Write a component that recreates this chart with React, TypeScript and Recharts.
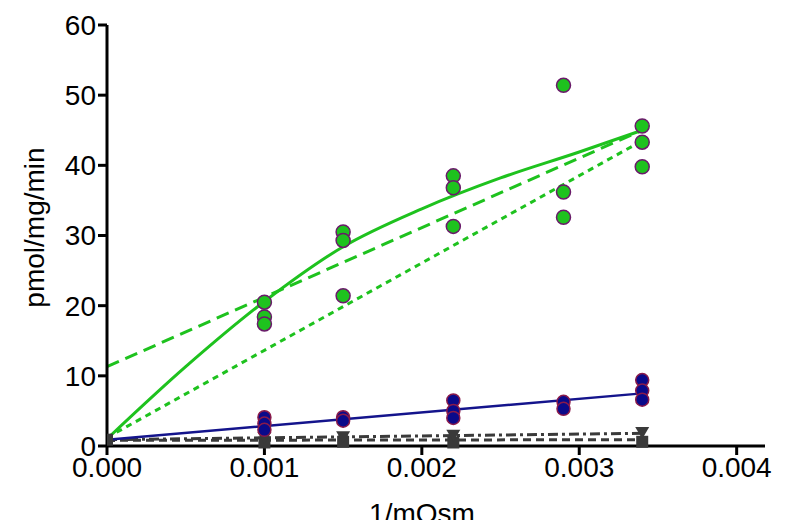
import React from 'react';
import {
  ComposedChart,
  Scatter,
  Line,
  XAxis,
  YAxis,
} from 'recharts';

// measured points (1/mOsm vs pmol/mg/min)
const greenPoints = [
  { x: 0.001, y: 20.5 }, { x: 0.001, y: 18.4 }, { x: 0.001, y: 17.4 },
  { x: 0.0015, y: 30.5 }, { x: 0.0015, y: 29.3 }, { x: 0.0015, y: 21.4 },
  { x: 0.0022, y: 38.5 }, { x: 0.0022, y: 36.8 }, { x: 0.0022, y: 31.3 },
  { x: 0.0029, y: 51.4 }, { x: 0.0029, y: 36.2 }, { x: 0.0029, y: 32.6 },
  { x: 0.0034, y: 45.6 }, { x: 0.0034, y: 43.3 }, { x: 0.0034, y: 39.8 },
];

const bluePoints = [
  { x: 0.001, y: 4.1 }, { x: 0.001, y: 3.2 }, { x: 0.001, y: 2.3 },
  { x: 0.0015, y: 4.1 }, { x: 0.0015, y: 3.6 },
  { x: 0.0022, y: 6.5 }, { x: 0.0022, y: 5.0 }, { x: 0.0022, y: 4.0 },
  { x: 0.0029, y: 6.3 }, { x: 0.0029, y: 5.3 },
  { x: 0.0034, y: 9.4 }, { x: 0.0034, y: 7.9 }, { x: 0.0034, y: 6.6 },
];

const trianglePoints = [
  { x: 0.001, y: 1.3 }, { x: 0.0015, y: 1.4 }, { x: 0.0022, y: 1.6 }, { x: 0.0034, y: 2.0 },
];

const squarePoints = [
  { x: 0, y: 0.9 }, { x: 0.001, y: 0.5 }, { x: 0.0015, y: 0.6 }, { x: 0.0022, y: 0.5 }, { x: 0.0034, y: 0.6 },
];

// fitted curves
const greenFit = [
  { x: 0, y: 1 }, { x: 0.0005, y: 11.3 }, { x: 0.001, y: 20.6 }, { x: 0.0015, y: 28.4 },
  { x: 0.002, y: 33.8 }, { x: 0.0025, y: 38.2 }, { x: 0.003, y: 41.9 }, { x: 0.0034, y: 45 },
];
const greenDashed = [{ x: 0, y: 11.3 }, { x: 0.0034, y: 45 }];
const greenDotted = [{ x: 0, y: 1.2 }, { x: 0.0034, y: 43.5 }];
const blueFit = [{ x: 0, y: 0.9 }, { x: 0.0034, y: 7.5 }];
const triangleFit = [{ x: 0, y: 0.9 }, { x: 0.0034, y: 1.8 }];
const squareFit = [{ x: 0, y: 0.8 }, { x: 0.0034, y: 0.9 }];

const xTicks = [0, 0.001, 0.002, 0.003, 0.004];
const yTicks = [0, 10, 20, 30, 40, 50, 60];

const GREEN = '#1ec21e';
const NAVY = '#14148c';
const GRAY = '#3a3a3a';
const FONT = '"Liberation Sans", Arial, sans-serif';

const GreenDot = (props: any) => (
  <circle cx={props.cx} cy={props.cy} r={7} fill={GREEN} stroke="#6a1a6a" strokeWidth={1.5} />
);
const BlueDot = (props: any) => (
  <circle cx={props.cx} cy={props.cy} r={6.5} fill="#0a0a8a" stroke="#8a1a4a" strokeWidth={1.5} />
);
const Square = (props: any) => (
  <rect x={props.cx - 6} y={props.cy - 6} width={12} height={12} fill={GRAY} />
);
const Triangle = (props: any) => {
  const { cx, cy } = props;
  return <path d={`M${cx - 7},${cy - 5} L${cx + 7},${cy - 5} L${cx},${cy + 7} Z`} fill={GRAY} />;
};

const tickStyle = { fill: '#000', fontSize: 28, fontFamily: FONT };

export default function App() {
  return (
    <div style={{ position: 'absolute', left: 0, top: 0, width: 800, height: 520, background: '#fff', overflow: 'hidden' }}>
      <ComposedChart width={800} height={520} margin={{ top: 25, right: 35, left: 27, bottom: 24 }}>
        <XAxis
          type="number"
          dataKey="x"
          domain={[0, 0.00418]}
          ticks={xTicks}
          tickFormatter={(v: number) => v.toFixed(3)}
          allowDataOverflow
          stroke="#000"
          strokeWidth={3}
          tickSize={9}
          tick={tickStyle}
          height={50}
          label={{ value: '1/mOsm', position: 'insideBottom', dx: -14, dy: 32, style: { fontSize: 28, fontFamily: FONT, fill: '#000' } }}
        />
        <YAxis
          type="number"
          dataKey="y"
          domain={[0, 60]}
          ticks={yTicks}
          stroke="#000"
          strokeWidth={3}
          tickSize={9}
          tick={tickStyle}
          width={80}
          label={{ value: 'pmol/mg/min', angle: -90, position: 'insideLeft', dx: 2, dy: -8, style: { textAnchor: 'middle', fontSize: 28, fontFamily: FONT, fill: '#000' } }}
        />
        <Line data={greenFit} dataKey="y" type="monotone" stroke={GREEN} strokeWidth={3} dot={false} isAnimationActive={false} />
        <Line data={greenDashed} dataKey="y" type="linear" stroke={GREEN} strokeWidth={3} strokeDasharray="13 7" dot={false} isAnimationActive={false} />
        <Line data={greenDotted} dataKey="y" type="linear" stroke={GREEN} strokeWidth={3} strokeDasharray="6 5" dot={false} isAnimationActive={false} />
        <Line data={triangleFit} dataKey="y" type="linear" stroke={GRAY} strokeWidth={3} strokeDasharray="10 4 3 4" dot={false} isAnimationActive={false} />
        <Line data={squareFit} dataKey="y" type="linear" stroke={GRAY} strokeWidth={3} strokeDasharray="8 5" dot={false} isAnimationActive={false} />
        <Scatter data={squarePoints} shape={Square} isAnimationActive={false} />
        <Scatter data={trianglePoints} shape={Triangle} isAnimationActive={false} />
        <Scatter data={bluePoints} shape={BlueDot} isAnimationActive={false} />
        <Scatter data={greenPoints} shape={GreenDot} isAnimationActive={false} />
        <Line data={blueFit} dataKey="y" type="linear" stroke={NAVY} strokeWidth={2.5} dot={false} isAnimationActive={false} />
      </ComposedChart>
    </div>
  );
}
